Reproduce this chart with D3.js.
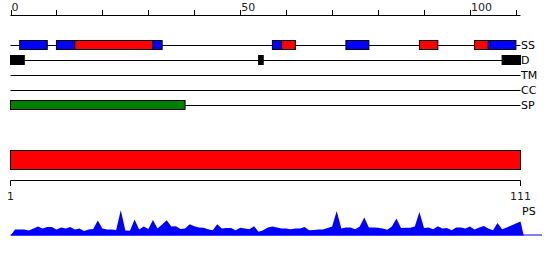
<!DOCTYPE html>
<html><head><meta charset="utf-8">
<script src="https://cdn.jsdelivr.net/npm/d3@7/dist/d3.min.js"></script>
<style>
html,body{margin:0;padding:0;background:#fff;}
svg{display:block;font-family:"DejaVu Sans",sans-serif;}
</style></head>
<body><svg id="c" width="550" height="260"></svg>
<script>
const seqLength = 111;
const topTickValues = d3.range(0, 111, 10);
const topTickLabels = [0, 50, 100];
const trackNames = ["SS", "D", "TM", "CC", "SP"];
// secondary structure segments
const ssStart = [2, 10, 14, 31, 57, 59, 73, 89, 101, 104];
const ssEnd   = [8, 14, 31, 33, 59, 62, 78, 93, 104, 110];
const ssType  = ["E", "E", "H", "E", "E", "H", "E", "H", "H", "E"];
// disorder segments
const dStart = [0, 54, 107];
const dEnd   = [3, 55, 111];
// signal peptide
const spStart = [0];
const spEnd   = [38];
// whole-sequence domain bar
const domainStart = [1];
const domainEnd = [111];
const psLabel = "PS";
// per-residue profile values (residues 1..111)
const profile = [6,6,6,5,7,9,7,8.5,8.5,6,8,7,8.5,6,7,4.5,6,6.5,15,7,
  6,6,5.5,25.3,5,4.7,16,6,9,6.5,15.5,7,11,15.3,9,9.3,6.5,7,11.3,9.3,
  8,7.7,6.3,5.3,11.3,7,7.5,7.5,5.3,7.7,7,6.3,9.3,3.7,5.3,8,9,8,7,7,
  6.2,7,7,8.5,5.3,5.5,6,6,7.5,9,24.5,7,8,8,6.2,9,18,8,8,7.7,
  7,5.8,9,17,7.5,7.7,7.7,9,23.5,7.5,8,6.2,9.3,7,7.5,5.3,8,8,7,9,
  6,8,9.5,7,5.3,12.5,6.2,8,10,12,14];

const svg = d3.select("#c");
const colorSS = {H: "#ff0000", E: "#0000ff"};

const x = d3.scaleLinear().domain([0, seqLength]).range([10.5, 520.5]);

// top axis
const topAxis = svg.append("g");
topAxis.append("line").attr("x1", x(0)).attr("x2", x(seqLength)).attr("y1", 15.5).attr("y2", 15.5)
  .attr("stroke", "#000");
topAxis.selectAll("line.t").data(topTickValues.concat([110])).enter().append("line")
  .attr("x1", d => Math.round(x(d)) + 0.5).attr("x2", d => Math.round(x(d)) + 0.5)
  .attr("y1", 10).attr("y2", 15.5).attr("stroke", "#000");
topAxis.selectAll("text").data(topTickLabels).enter().append("text")
  .attr("x", d => x(d) + 1).attr("y", 10.5).attr("font-size", 11).attr("fill", "#222")
  .text(d => d);

// tracks
const rowY = d3.scalePoint().domain(trackNames).range([45.5, 105.5]);
const tracks = svg.append("g");
trackNames.forEach(n => {
  tracks.append("line").attr("x1", x(0)).attr("x2", x(seqLength))
    .attr("y1", rowY(n)).attr("y2", rowY(n)).attr("stroke", "#000");
  tracks.append("text").attr("x", x(seqLength) + 0.5).attr("y", rowY(n) + 0.5)
    .attr("dominant-baseline", "middle").attr("font-size", 11).attr("fill", "#000").text(n);
});
function boxes(starts, ends, row, fillFn) {
  tracks.selectAll(null).data(starts.map((s, i) => i)).enter().append("rect")
    .attr("x", i => x(starts[i])).attr("width", i => x(ends[i]) - x(starts[i]))
    .attr("y", rowY(row) - 5).attr("height", 9)
    .attr("fill", fillFn).attr("stroke", "#000").attr("stroke-width", 1);
}
boxes(ssStart, ssEnd, "SS", i => colorSS[ssType[i]]);
boxes(dStart, dEnd, "D", () => "#000");
boxes(spStart, spEnd, "SP", () => "#008000");

// domain bar and bottom axis
const xb = d3.scaleLinear().domain([domainStart[0], domainEnd[0]]).range([10.5, 520.5]);
svg.append("rect").attr("x", xb(domainStart[0])).attr("width", xb(domainEnd[0]) - xb(domainStart[0]))
  .attr("y", 150.5).attr("height", 19).attr("fill", "#ff0000").attr("stroke", "#000");
svg.append("line").attr("x1", xb(domainStart[0])).attr("x2", xb(domainEnd[0]))
  .attr("y1", 180.5).attr("y2", 180.5).attr("stroke", "#000");
const ends = [domainStart[0], domainEnd[0]];
svg.selectAll("line.b").data(ends).enter().append("line")
  .attr("x1", d => xb(d)).attr("x2", d => xb(d)).attr("y1", 180.5).attr("y2", 186)
  .attr("stroke", "#000");
svg.selectAll("text.b").data(ends).enter().append("text")
  .attr("x", d => xb(d)).attr("y", 199.5).attr("text-anchor", "middle")
  .attr("font-size", 11).attr("fill", "#222").text(d => d);
svg.append("text").attr("x", 522).attr("y", 215).attr("font-size", 11).attr("fill", "#000").text(psLabel);

// profile area
const y = d3.scaleLinear().domain([0, 30]).range([235.5, 205.5]);
const pts = [[0, 0]].concat(profile.map((v, i) => [i + 1, v])).concat([[seqLength + 0.7, 0]]);
const area = d3.area().x(d => x(d[0])).y0(y(0)).y1(d => y(d[1]));
svg.append("path").datum(pts).attr("d", area).attr("fill", "#0000ff");
svg.append("line").attr("x1", x(0)).attr("x2", 542).attr("y1", 235).attr("y2", 235)
  .attr("stroke", "#0000ff");
</script></body></html>
